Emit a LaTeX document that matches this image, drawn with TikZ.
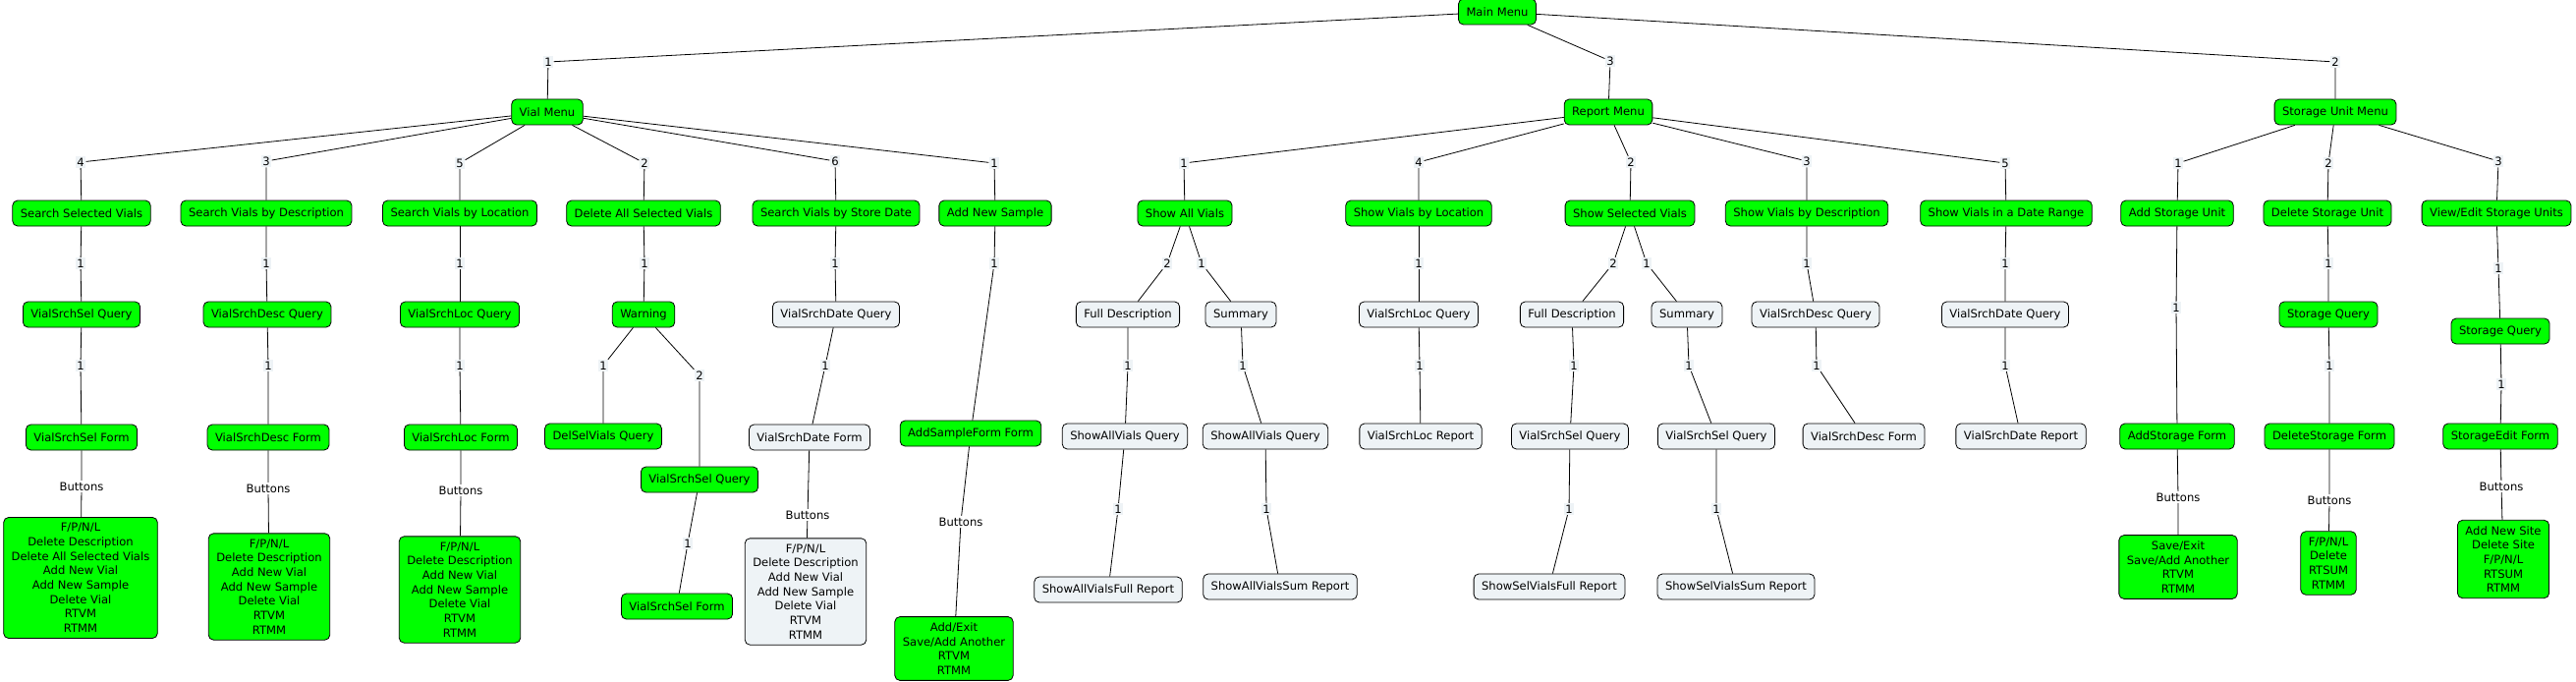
\documentclass[tikz,border=0pt]{standalone}
\usepackage{fontspec}
\setmainfont{DejaVu Sans}
\definecolor{cmapgreen}{HTML}{00FF00}
\definecolor{cmappale}{HTML}{EEF3F6}

\begin{document}
\begin{tikzpicture}[x=1bp, y=-1bp, line width=0.8bp,
    box/.style = {draw, rounded corners=5bp, minimum height=26bp, inner xsep=8bp, inner ysep=6bp, align=center, font=\fontsize{11.6}{14.7}\selectfont},
    menu/.style = {box, fill=cmapgreen},
    plain/.style = {box, fill=cmappale},
    lab/.style = {fill=cmappale, inner sep=1.5bp, font=\fontsize{11.6}{14}\selectfont},
    btn/.style = {lab, fill=white}]
\useasboundingbox (0,0) rectangle (2622,694);

% main menu
\node[menu] (main) at (1524,12) {Main Menu};
\node[menu] (vial) at (557,114) {Vial Menu};
\node[menu] (report) at (1637,114) {Report Menu};
\node[menu] (storage) at (2377,114) {Storage Unit Menu};
\node[lab] (m1) at (558,63) {1};
\node[lab] (m3) at (1639,62) {3};
\node[lab] (m2) at (2377,63) {2};
\draw (main) -- (m1) -- (vial);
\draw (main) -- (m3) -- (report);
\draw (main) -- (m2) -- (storage);

% vial menu
\node[menu] (srchsel) at (83,217) {Search Selected Vials};
\node[menu] (srchdesc) at (271,217) {Search Vials by Description};
\node[menu] (srchloc) at (468,217) {Search Vials by Location};
\node[menu] (delall) at (655,217) {Delete All Selected Vials};
\node[menu] (srchdate) at (851,217) {Search Vials by Store Date};
\node[menu] (addsample) at (1013,217) {Add New Sample};
\node[lab] (v4) at (82,165) {4};
\node[lab] (v3) at (271,164) {3};
\node[lab] (v5) at (468,166) {5};
\node[lab] (v2) at (656,166) {2};
\node[lab] (v6) at (850,164) {6};
\node[lab] (v1) at (1012,166) {1};
\draw (vial) -- (v4) -- (srchsel);
\draw (vial) -- (v3) -- (srchdesc);
\draw (vial) -- (v5) -- (srchloc);
\draw (vial) -- (v2) -- (delall);
\draw (vial) -- (v6) -- (srchdate);
\draw (vial) -- (v1) -- (addsample);

\node[menu] (selq) at (83,320) {VialSrchSel Query};
\node[menu] (descq) at (272,320) {VialSrchDesc Query};
\node[menu] (locq) at (468,320) {VialSrchLoc Query};
\node[menu] (warning) at (655,320) {Warning};
\node[plain] (dateq) at (851,320) {VialSrchDate Query};
\node[menu] (addform) at (988,441) {AddSampleForm Form};
\node[lab] (a1) at (82,268) {1};
\node[lab] (a2) at (271,268) {1};
\node[lab] (a3) at (468,268) {1};
\node[lab] (a4) at (656,268) {1};
\node[lab] (a5) at (850,268) {1};
\node[lab] (a6) at (1012,268) {1};
\draw (srchsel) -- (a1) -- (selq);
\draw (srchdesc) -- (a2) -- (descq);
\draw (srchloc) -- (a3) -- (locq);
\draw (delall) -- (a4) -- (warning);
\draw (srchdate) -- (a5) -- (dateq);
\draw (addsample) -- (a6) -- (addform);

\node[menu] (selform) at (83,445) {VialSrchSel Form};
\node[menu] (descform) at (273,445) {VialSrchDesc Form};
\node[menu] (locform) at (469,445) {VialSrchLoc Form};
\node[menu] (delselq) at (614,444) {DelSelVials Query};
\node[menu] (selq2) at (712,488) {VialSrchSel Query};
\node[plain] (dateform) at (824,445) {VialSrchDate Form};
\node[lab] (b1) at (82,372) {1};
\node[lab] (b2) at (273,372) {1};
\node[lab] (b3) at (468,372) {1};
\node[lab] (b4) at (614,372) {1};
\node[lab] (b5) at (712,382) {2};
\node[lab] (b6) at (840,372) {1};
\draw (selq) -- (b1) -- (selform);
\draw (descq) -- (b2) -- (descform);
\draw (locq) -- (b3) -- (locform);
\draw (warning) -- (b4) -- (delselq);
\draw (warning) -- (b5) -- (selq2);
\draw (dateq) -- (b6) -- (dateform);

\node[menu] (selform2) at (689,617) {VialSrchSel Form};
\node[lab] (c1) at (700,553) {1};
\draw (selq2) -- (c1) -- (selform2);

% button lists
\node[menu] (btnsel) at (82,588) {F/P/N/L\\Delete Description\\Delete All Selected Vials\\Add New Vial\\Add New Sample\\Delete Vial\\RTVM\\RTMM};
\node[menu] (btndesc) at (274,597) {F/P/N/L\\Delete Description\\Add New Vial\\Add New Sample\\Delete Vial\\RTVM\\RTMM};
\node[menu] (btnloc) at (468,600) {F/P/N/L\\Delete Description\\Add New Vial\\Add New Sample\\Delete Vial\\RTVM\\RTMM};
\node[plain] (btndate) at (820,602) {F/P/N/L\\Delete Description\\Add New Vial\\Add New Sample\\Delete Vial\\RTVM\\RTMM};
\node[menu] (btnadd) at (971,660) {Add/Exit\\Save/Add Another\\RTVM\\RTMM};
\node[btn] (k1) at (83,495) {Buttons};
\node[btn] (k2) at (273,497) {Buttons};
\node[btn] (k3) at (469,499) {Buttons};
\node[btn] (k4) at (822,524) {Buttons};
\node[btn] (k5) at (978,531) {Buttons};
\draw (selform) -- (k1) -- (btnsel);
\draw (descform) -- (k2) -- (btndesc);
\draw (locform) -- (k3) -- (btnloc);
\draw (dateform) -- (k4) -- (btndate);
\draw (addform) -- (k5) -- (btnadd);

% report menu
\node[menu] (showall) at (1206,217) {Show All Vials};
\node[menu] (showloc) at (1444,217) {Show Vials by Location};
\node[menu] (showsel) at (1659,217) {Show Selected Vials};
\node[menu] (showdesc) at (1839,217) {Show Vials by Description};
\node[menu] (showdate) at (2042,217) {Show Vials in a Date Range};
\node[lab] (r1) at (1205,166) {1};
\node[lab] (r4) at (1444,165) {4};
\node[lab] (r2) at (1660,165) {2};
\node[lab] (r3) at (1839,164) {3};
\node[lab] (r5) at (2041,166) {5};
\draw (report) -- (r1) -- (showall);
\draw (report) -- (r4) -- (showloc);
\draw (report) -- (r2) -- (showsel);
\draw (report) -- (r3) -- (showdesc);
\draw (report) -- (r5) -- (showdate);

\node[plain] (fulldesc1) at (1148,320) {Full Description};
\node[plain] (summary1) at (1263,320) {Summary};
\node[plain] (rlocq) at (1444,320) {VialSrchLoc Query};
\node[plain] (fulldesc2) at (1600,320) {Full Description};
\node[plain] (summary2) at (1717,320) {Summary};
\node[plain] (rdescq) at (1848,320) {VialSrchDesc Query};
\node[plain] (rdateq) at (2041,320) {VialSrchDate Query};
\node[lab] (d1) at (1188,268) {2};
\node[lab] (d2) at (1223,268) {1};
\node[lab] (d3) at (1444,268) {1};
\node[lab] (d4) at (1642,268) {2};
\node[lab] (d5) at (1676,268) {1};
\node[lab] (d6) at (1839,268) {1};
\node[lab] (d7) at (2041,268) {1};
\draw (showall) -- (d1) -- (fulldesc1);
\draw (showall) -- (d2) -- (summary1);
\draw (showloc) -- (d3) -- (rlocq);
\draw (showsel) -- (d4) -- (fulldesc2);
\draw (showsel) -- (d5) -- (summary2);
\draw (showdesc) -- (d6) -- (rdescq);
\draw (showdate) -- (d7) -- (rdateq);

\node[plain] (allq1) at (1145,444) {ShowAllVials Query};
\node[plain] (allq2) at (1288,444) {ShowAllVials Query};
\node[plain] (rlocrep) at (1446,444) {VialSrchLoc Report};
\node[plain] (rselq1) at (1598,444) {VialSrchSel Query};
\node[plain] (rselq2) at (1747,444) {VialSrchSel Query};
\node[plain] (rdescform) at (1897,444) {VialSrchDesc Form};
\node[plain] (rdaterep) at (2057,444) {VialSrchDate Report};
\node[lab] (e1) at (1148,372) {1};
\node[lab] (e2) at (1265,372) {1};
\node[lab] (e3) at (1445,372) {1};
\node[lab] (e4) at (1602,372) {1};
\node[lab] (e5) at (1719,372) {1};
\node[lab] (e6) at (1849,372) {1};
\node[lab] (e7) at (2041,372) {1};
\draw (fulldesc1) -- (e1) -- (allq1);
\draw (summary1) -- (e2) -- (allq2);
\draw (rlocq) -- (e3) -- (rlocrep);
\draw (fulldesc2) -- (e4) -- (rselq1);
\draw (summary2) -- (e5) -- (rselq2);
\draw (rdescq) -- (e6) -- (rdescform);
\draw (rdateq) -- (e7) -- (rdaterep);

\node[plain] (allfull) at (1128,600) {ShowAllVialsFull Report};
\node[plain] (allsum) at (1303,597) {ShowAllVialsSum Report};
\node[plain] (selfull) at (1577,597) {ShowSelVialsFull Report};
\node[plain] (selsum) at (1767,597) {ShowSelVialsSum Report};
\node[lab] (f1) at (1138,518) {1};
\node[lab] (f2) at (1289,518) {1};
\node[lab] (f3) at (1597,518) {1};
\node[lab] (f4) at (1747,518) {1};
\draw (allq1) -- (f1) -- (allfull);
\draw (allq2) -- (f2) -- (allsum);
\draw (rselq1) -- (f3) -- (selfull);
\draw (rselq2) -- (f4) -- (selsum);

% storage unit menu
\node[menu] (addstor) at (2216,217) {Add Storage Unit};
\node[menu] (delstor) at (2369,217) {Delete Storage Unit};
\node[menu] (editstor) at (2541,217) {View/Edit Storage Units};
\node[lab] (s1) at (2217,166) {1};
\node[lab] (s2) at (2370,166) {2};
\node[lab] (s3) at (2543,164) {3};
\draw (storage) -- (s1) -- (addstor);
\draw (storage) -- (s2) -- (delstor);
\draw (storage) -- (s3) -- (editstor);

\node[menu] (storq1) at (2370,320) {Storage Query};
\node[menu] (storq2) at (2545,337) {Storage Query};
\node[menu] (addstorform) at (2216,444) {AddStorage Form};
\node[menu] (delstorform) at (2371,444) {DeleteStorage Form};
\node[menu] (editform) at (2545,444) {StorageEdit Form};
\node[lab] (t1) at (2215,313) {1};
\node[lab] (t2) at (2370,268) {1};
\node[lab] (t3) at (2543,273) {1};
\node[lab] (t4) at (2371,372) {1};
\node[lab] (t5) at (2546,391) {1};
\draw (addstor) -- (t1) -- (addstorform);
\draw (delstor) -- (t2) -- (storq1);
\draw (editstor) -- (t3) -- (storq2);
\draw (storq1) -- (t4) -- (delstorform);
\draw (storq2) -- (t5) -- (editform);

\node[menu] (btnaddstor) at (2217,577) {Save/Exit\\Save/Add Another\\RTVM\\RTMM};
\node[menu] (btndelstor) at (2370,573) {F/P/N/L\\Delete\\RTSUM\\RTMM};
\node[menu] (btnedit) at (2548,569) {Add New Site\\Delete Site\\F/P/N/L\\RTSUM\\RTMM};
\node[btn] (k6) at (2217,506) {Buttons};
\node[btn] (k7) at (2371,509) {Buttons};
\node[btn] (k8) at (2546,495) {Buttons};
\draw (addstorform) -- (k6) -- (btnaddstor);
\draw (delstorform) -- (k7) -- (btndelstor);
\draw (editform) -- (k8) -- (btnedit);
\end{tikzpicture}
\end{document}
